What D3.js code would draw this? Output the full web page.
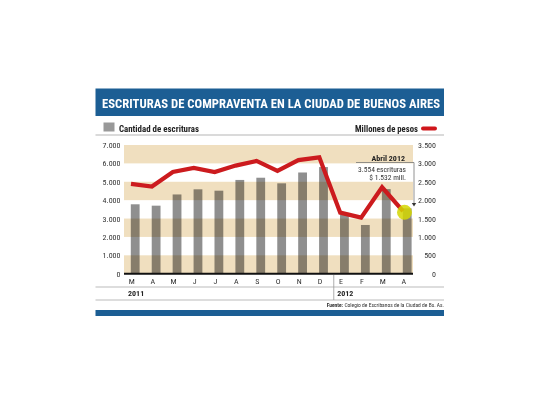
<!DOCTYPE html>
<html><head><meta charset="utf-8">
<script src="https://cdn.jsdelivr.net/npm/d3@7"></script>
<style>
body{margin:0;background:#fff;}
svg{display:block;}
text{font-family:"Liberation Sans Narrow","Roboto Condensed","DejaVu Sans Condensed","Liberation Sans",Arial,sans-serif;}
</style></head>
<body><svg id="c" width="540" height="405"></svg>
<script>
const months = ["M","A","M","J","J","A","S","O","N","D","E","F","M","A"];
const escrituras = [3775, 3700, 4310, 4590, 4515, 5100, 5220, 4915, 5505, 5800, 3195, 2650, 4600, 3554];
const pesos = [2445, 2370, 2765, 2875, 2766, 2940, 3066, 2794, 3090, 3165, 1660, 1525, 2350, 1700];
const leftTicks = [0,1000,2000,3000,4000,5000,6000,7000];
const rightTicks = [0,500,1000,1500,2000,2500,3000,3500];
const years = [{label:"2011", idx:0},{label:"2012", idx:10}];

const svg = d3.select("#c");
const fmt = d3.formatLocale({decimal:",",thousands:".",grouping:[3],currency:["$",""]}).format(",d");

const X0 = 124, X1 = 413, Y0 = 273.7, Y1 = 145;
const x = d3.scalePoint().domain(d3.range(months.length)).range([131, 403]);
const yL = d3.scaleLinear().domain([0,7000]).range([Y0, Y1]);
const yR = d3.scaleLinear().domain([0,3500]).range([Y0, Y1]);

// Title bar
svg.append("rect").attr("x",95.5).attr("y",88.5).attr("width",348.5).attr("height",27.5).attr("fill","#1c5e94");
svg.append("text").attr("x",102).attr("y",108).attr("fill","#fff").attr("font-weight","bold")
  .attr("font-size",13).attr("textLength",338).attr("lengthAdjust","spacingAndGlyphs")
  .text("ESCRITURAS DE COMPRAVENTA EN LA CIUDAD DE BUENOS AIRES");

// Legend
svg.append("rect").attr("x",103.5).attr("y",122.5).attr("width",11).attr("height",9).attr("fill","#999");
svg.append("text").attr("x",119).attr("y",132).attr("font-size",9.5).attr("font-weight","bold").attr("fill","#222")
  .attr("textLength",80).attr("lengthAdjust","spacingAndGlyphs").text("Cantidad de escrituras");
svg.append("text").attr("x",355).attr("y",132).attr("font-size",9.5).attr("font-weight","bold").attr("fill","#222")
  .attr("textLength",63).attr("lengthAdjust","spacingAndGlyphs").text("Millones de pesos");
svg.append("line").attr("x1",423).attr("x2",435).attr("y1",128.5).attr("y2",128.5)
  .attr("stroke","#d0161b").attr("stroke-width",4).attr("stroke-linecap","round");
svg.append("line").attr("x1",95.5).attr("x2",444).attr("y1",135).attr("y2",135).attr("stroke","#b5b5b5").attr("stroke-width",1.2);

// Bands
const bandStarts = [0,2000,4000,6000];
svg.append("g").selectAll("rect").data(bandStarts).join("rect")
  .attr("x",X0).attr("width",X1-X0)
  .attr("y",d=>yL(d+1000)).attr("height",d=>yL(d)-yL(d+1000))
  .attr("fill","#f0dfbf");

// Bars
svg.append("g").style("isolation","auto").selectAll("rect").data(escrituras).join("rect")
  .attr("x",(d,i)=>x(i)-0.2).attr("width",8.8)
  .attr("y",d=>yL(d)).attr("height",d=>Y0-yL(d))
  .attr("fill","#8f8f8f").style("mix-blend-mode","multiply");

// Axis baseline
svg.append("line").attr("x1",X0).attr("x2",X1).attr("y1",Y0).attr("y2",Y0).attr("stroke","#111").attr("stroke-width",2);

// Left axis labels
const axL = d3.axisLeft(yL).tickValues(leftTicks).tickFormat(fmt).tickSize(0).tickPadding(0);
const gL = svg.append("g").attr("transform","translate(120.5,0)").call(axL);
gL.select(".domain").remove();
gL.selectAll("text").attr("font-size",8).attr("fill","#333").style("font-family",null);
gL.attr("font-family",null);

const axR = d3.axisRight(yR).tickValues(rightTicks).tickFormat(fmt).tickSize(0).tickPadding(0);
const gR = svg.append("g").attr("transform","translate(436,0)").call(axR);
gR.select(".domain").remove();
gR.selectAll("text").attr("font-size",8).attr("fill","#333").attr("text-anchor","end");
gR.attr("font-family",null);

// Line
const line = d3.line().x((d,i)=>x(i)).y(d=>yR(d));
svg.append("path").datum(pesos).attr("d",line).attr("fill","none")
  .attr("stroke","#cc1b1e").attr("stroke-width",4.2).attr("stroke-linejoin","miter").attr("stroke-linecap","butt");

// Highlight circle at last point
const li = pesos.length-1;
svg.append("circle").attr("cx",x(li)+1.5).attr("cy",yR(pesos[li])+1).attr("r",7.5)
  .attr("fill","#d4d600").attr("opacity",0.85);

// Annotation
svg.append("text").attr("x",405).attr("y",160.5).attr("text-anchor","end").attr("font-size",8).attr("font-weight","bold").attr("fill","#222").text("Abril 2012");
svg.append("line").attr("x1",356).attr("x2",414).attr("y1",162.5).attr("y2",162.5).attr("stroke","#777").attr("stroke-width",0.8);
svg.append("line").attr("x1",414).attr("x2",414).attr("y1",162.5).attr("y2",204).attr("stroke","#777").attr("stroke-width",0.8);
svg.append("path").attr("d","M411.8,203 L416.2,203 L414,206.5 Z").attr("fill","#333");
svg.append("text").attr("x",406).attr("y",171.5).attr("text-anchor","end").attr("font-size",7.5).attr("fill","#333").text("3.554 escrituras");
svg.append("text").attr("x",406).attr("y",180).attr("text-anchor","end").attr("font-size",7.5).attr("fill","#333").text("$ 1.532 mill.");

// Month labels
svg.append("g").selectAll("text").data(months).join("text")
  .attr("x",(d,i)=>x(i)+0.8).attr("y",284).attr("text-anchor","middle")
  .attr("font-size",8).attr("fill","#333").text(d=>d);

// Lower lines
svg.append("line").attr("x1",95.5).attr("x2",444).attr("y1",287).attr("y2",287).attr("stroke","#aaa").attr("stroke-width",0.8);
svg.append("line").attr("x1",95.5).attr("x2",444).attr("y1",300).attr("y2",300).attr("stroke","#aaa").attr("stroke-width",0.8);
const sepX = (x(9)+x(10))/2 + 4;
svg.append("line").attr("x1",sepX).attr("x2",sepX).attr("y1",275).attr("y2",300).attr("stroke","#999").attr("stroke-width",0.8);
svg.append("g").selectAll("text").data(years).join("text")
  .attr("x",d=>x(d.idx)-3).attr("y",296).attr("font-size",8).attr("font-weight","bold").attr("fill","#222").text(d=>d.label);

// Source
const src = svg.append("text").attr("x",444).attr("y",306.5).attr("text-anchor","end").attr("font-size",5.5).attr("fill","#333");
src.append("tspan").attr("font-weight","bold").text("Fuente: ");
src.append("tspan").text("Colegio de Escribanos de la Ciudad de Bs. As.");

// Bottom bar
svg.append("rect").attr("x",95.5).attr("y",310).attr("width",348.5).attr("height",6).attr("fill","#1c5e94");
</script></body></html>
